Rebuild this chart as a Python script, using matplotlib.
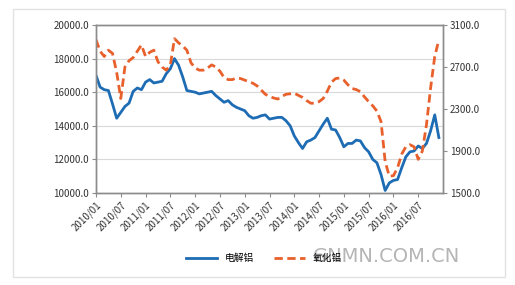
import numpy as np
import matplotlib.pyplot as plt
from matplotlib.lines import Line2D

plt.rcParams['font.family'] = ['Noto Sans CJK SC', 'DejaVu Sans']

# monthly, 2010/01 .. 2016/12
months = [f"{y}/{m:02d}" for y in range(2010, 2017) for m in range(1, 13)]

aluminium = [17000, 16300, 16150, 16100, 15300, 14450, 14800, 15150, 15350, 16050,
             16250, 16150, 16600, 16750, 16550, 16600, 16650, 17100, 17400, 18000,
             17600, 16900, 16100, 16050, 16000, 15900, 15950, 16000, 16050, 15800,
             15600, 15400, 15500, 15250, 15100, 15000, 14900, 14600, 14450, 14500,
             14600, 14650, 14400, 14450, 14500, 14500, 14300, 14000, 13400, 13000,
             12650, 13050, 13150, 13300, 13700, 14100, 14450, 13800, 13750, 13300,
             12750, 12950, 12950, 13150, 13100, 12700, 12450, 12000, 11800, 11100,
             10150, 10600, 10750, 10800, 11500, 12150, 12450, 12500, 12800, 12650,
             12950, 13700, 14650, 13300]

alumina = [2960, 2850, 2800, 2860, 2830, 2650, 2400, 2700, 2760, 2790,
           2850, 2910, 2800, 2840, 2860, 2750, 2700, 2670, 2720, 2970,
           2930, 2900, 2860, 2740, 2690, 2670, 2670, 2690, 2720, 2700,
           2660, 2600, 2580, 2580, 2595, 2590, 2575, 2560, 2545, 2520,
           2480, 2440, 2420, 2405, 2395, 2420, 2440, 2445, 2450, 2430,
           2410, 2380, 2355, 2355, 2370, 2400, 2470, 2555, 2590, 2595,
           2575, 2530, 2495, 2485, 2465, 2415, 2370, 2330, 2280, 2180,
           1800, 1660, 1665, 1740, 1870, 1940, 1960, 1940, 1820, 1900,
           2150, 2500, 2800, 2960]

left_ticks = [10000, 12000, 14000, 16000, 18000, 20000]
right_ticks = [1500, 1900, 2300, 2700, 3100]

BLUE = '#1E6CB4'
ORANGE = '#E8612C'

fig = plt.figure(figsize=(5.15, 2.85), dpi=100)
fig.patches.append(plt.Rectangle((13 / 515, 8 / 285), 492 / 515, 268 / 285,
                                 transform=fig.transFigure, fill=False,
                                 edgecolor='#E2E2E2', lw=1.0))
ax = fig.add_axes([96 / 515, 1 - 193 / 285, 347 / 515, 168 / 285])
ax2 = ax.twinx()

x = np.arange(len(aluminium))
ax.plot(x, aluminium, color=BLUE, lw=2.0, solid_joinstyle='round')
ax2.plot(x, alumina, color=ORANGE, lw=2.0, dashes=(3.0, 1.6))

ax.set_xlim(0, 84)
ax.set_ylim(10000, 20000)
ax2.set_ylim(1500, 3100)
ax.set_yticks(left_ticks)
ax.set_yticklabels([f"{v:.1f}" for v in left_ticks], fontsize=7, color='#333333')
ax2.set_yticks(right_ticks)
ax2.set_yticklabels([f"{v:.1f}" for v in right_ticks], fontsize=7, color='#333333')
ax.set_xticks(x[::6])
ax.set_xticklabels(months[::6], rotation=45, ha='right', va='top', fontsize=7,
                   color='#333333', rotation_mode='anchor')
ax.grid(axis='y', color='#D9D9D9', lw=0.8)
ax.set_axisbelow(True)

for a in (ax, ax2):
    for s in a.spines.values():
        s.set_color('#8C8C8C')
        s.set_linewidth(1.0)
    a.tick_params(length=3, width=0.8, color='#8C8C8C', pad=2)

legend = [Line2D([0], [0], color=BLUE, lw=2.0, label='电解铝'),
          Line2D([0], [0], color=ORANGE, lw=2.0, dashes=(3.0, 1.6), label='氧化铝')]
fig.legend(handles=legend, loc='center', bbox_to_anchor=(264 / 515, 1 - 258 / 285),
           ncol=2, frameon=False, fontsize=7, handlelength=3.2, columnspacing=2.0)

fig.text(386 / 515, 1 - 257 / 285, 'GNMN.COM.CN', fontsize=14, color='#A8A8A8',
         alpha=0.85, ha='center', va='center', family='DejaVu Sans')

fig.savefig('out.png', dpi=100)
